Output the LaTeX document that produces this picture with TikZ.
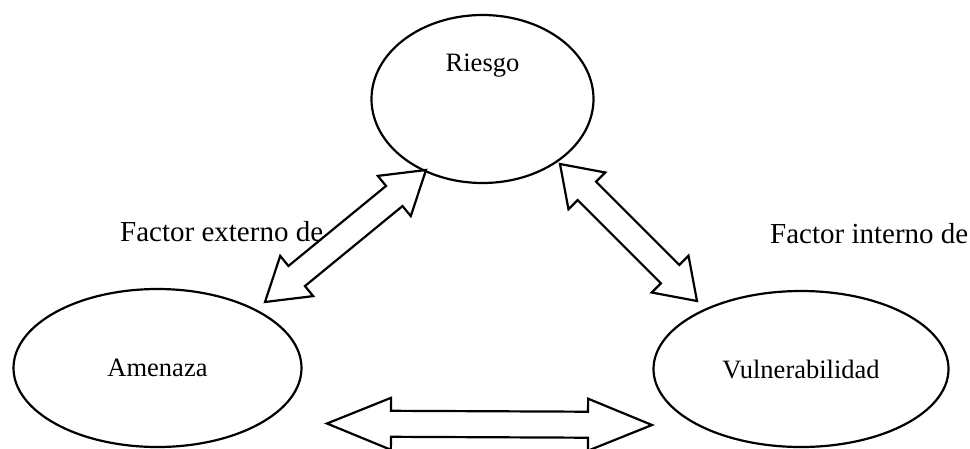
\documentclass[tikz,border=0pt]{standalone}
\usepackage{fontspec}
\setmainfont{Liberation Serif}
\usepackage{tikz}
\usetikzlibrary{calc}
\usetikzlibrary{positioning}
\usetikzlibrary{shapes.geometric}
\tikzstyle{factor}=[draw, ellipse, line width=2.2pt, inner sep=0pt, outer sep=0pt, font=\fontsize{26.5}{30}\selectfont]
\tikzstyle{word}=[inner sep=0pt, font=\fontsize{26.5}{30}\selectfont]
\tikzstyle{tag}=[inner sep=0pt, font=\fontsize{29}{34}\selectfont]
\tikzstyle{blockline}=[line width=2.2pt, line join=miter]
\newcommand\dblarrow[3][40pt]{%
  \draw[blockline] (#2)
    -- ($(#2)!#1!(#3)!26pt!90:(#3)$)
    -- ($(#2)!#1!(#3)!13pt!90:(#3)$)
    -- ($(#3)!#1!(#2)!13pt!-90:(#2)$)
    -- ($(#3)!#1!(#2)!26pt!-90:(#2)$)
    -- (#3)
    -- ($(#3)!#1!(#2)!26pt!90:(#2)$)
    -- ($(#3)!#1!(#2)!13pt!90:(#2)$)
    -- ($(#2)!#1!(#3)!13pt!-90:(#3)$)
    -- ($(#2)!#1!(#3)!26pt!-90:(#3)$)
    -- cycle;%
}
\begin{document}
\begin{tikzpicture}[x=1pt,y=-1pt]
	\useasboundingbox (0,0) rectangle (970,448);
	\node[factor, minimum width=222pt, minimum height=168pt] (riesgo) at (482.5,99) {};
	\node[factor, minimum width=288pt, minimum height=158pt] (amenaza) at (157.5,368) {Amenaza};
	\node[factor, minimum width=295pt, minimum height=156pt] (vulner) at (801,369) {Vulnerabilidad};
	\node[word, below=56.7pt of riesgo.north, anchor=base] (riesgo-txt) {Riesgo};
	\node[tag, anchor=base west] (externo) at (120,241.7) {Factor externo de};
	\node[tag, anchor=base west] (interno) at (770,243.3) {Factor interno de};
	\coordinate (amenaza-ne) at (265,302);
	\coordinate (riesgo-sw)  at (426,170);
	\coordinate (riesgo-se)  at (560,164);
	\coordinate (vulner-nw)  at (697,301);
	\coordinate (amenaza-e)  at (327,423.5);
	\coordinate (vulner-w)   at (652,425);
	\dblarrow[41pt]{amenaza-ne}{riesgo-sw}
	\dblarrow[38pt]{riesgo-se}{vulner-nw}
	\dblarrow[64pt]{amenaza-e}{vulner-w}
\end{tikzpicture}
\end{document}
